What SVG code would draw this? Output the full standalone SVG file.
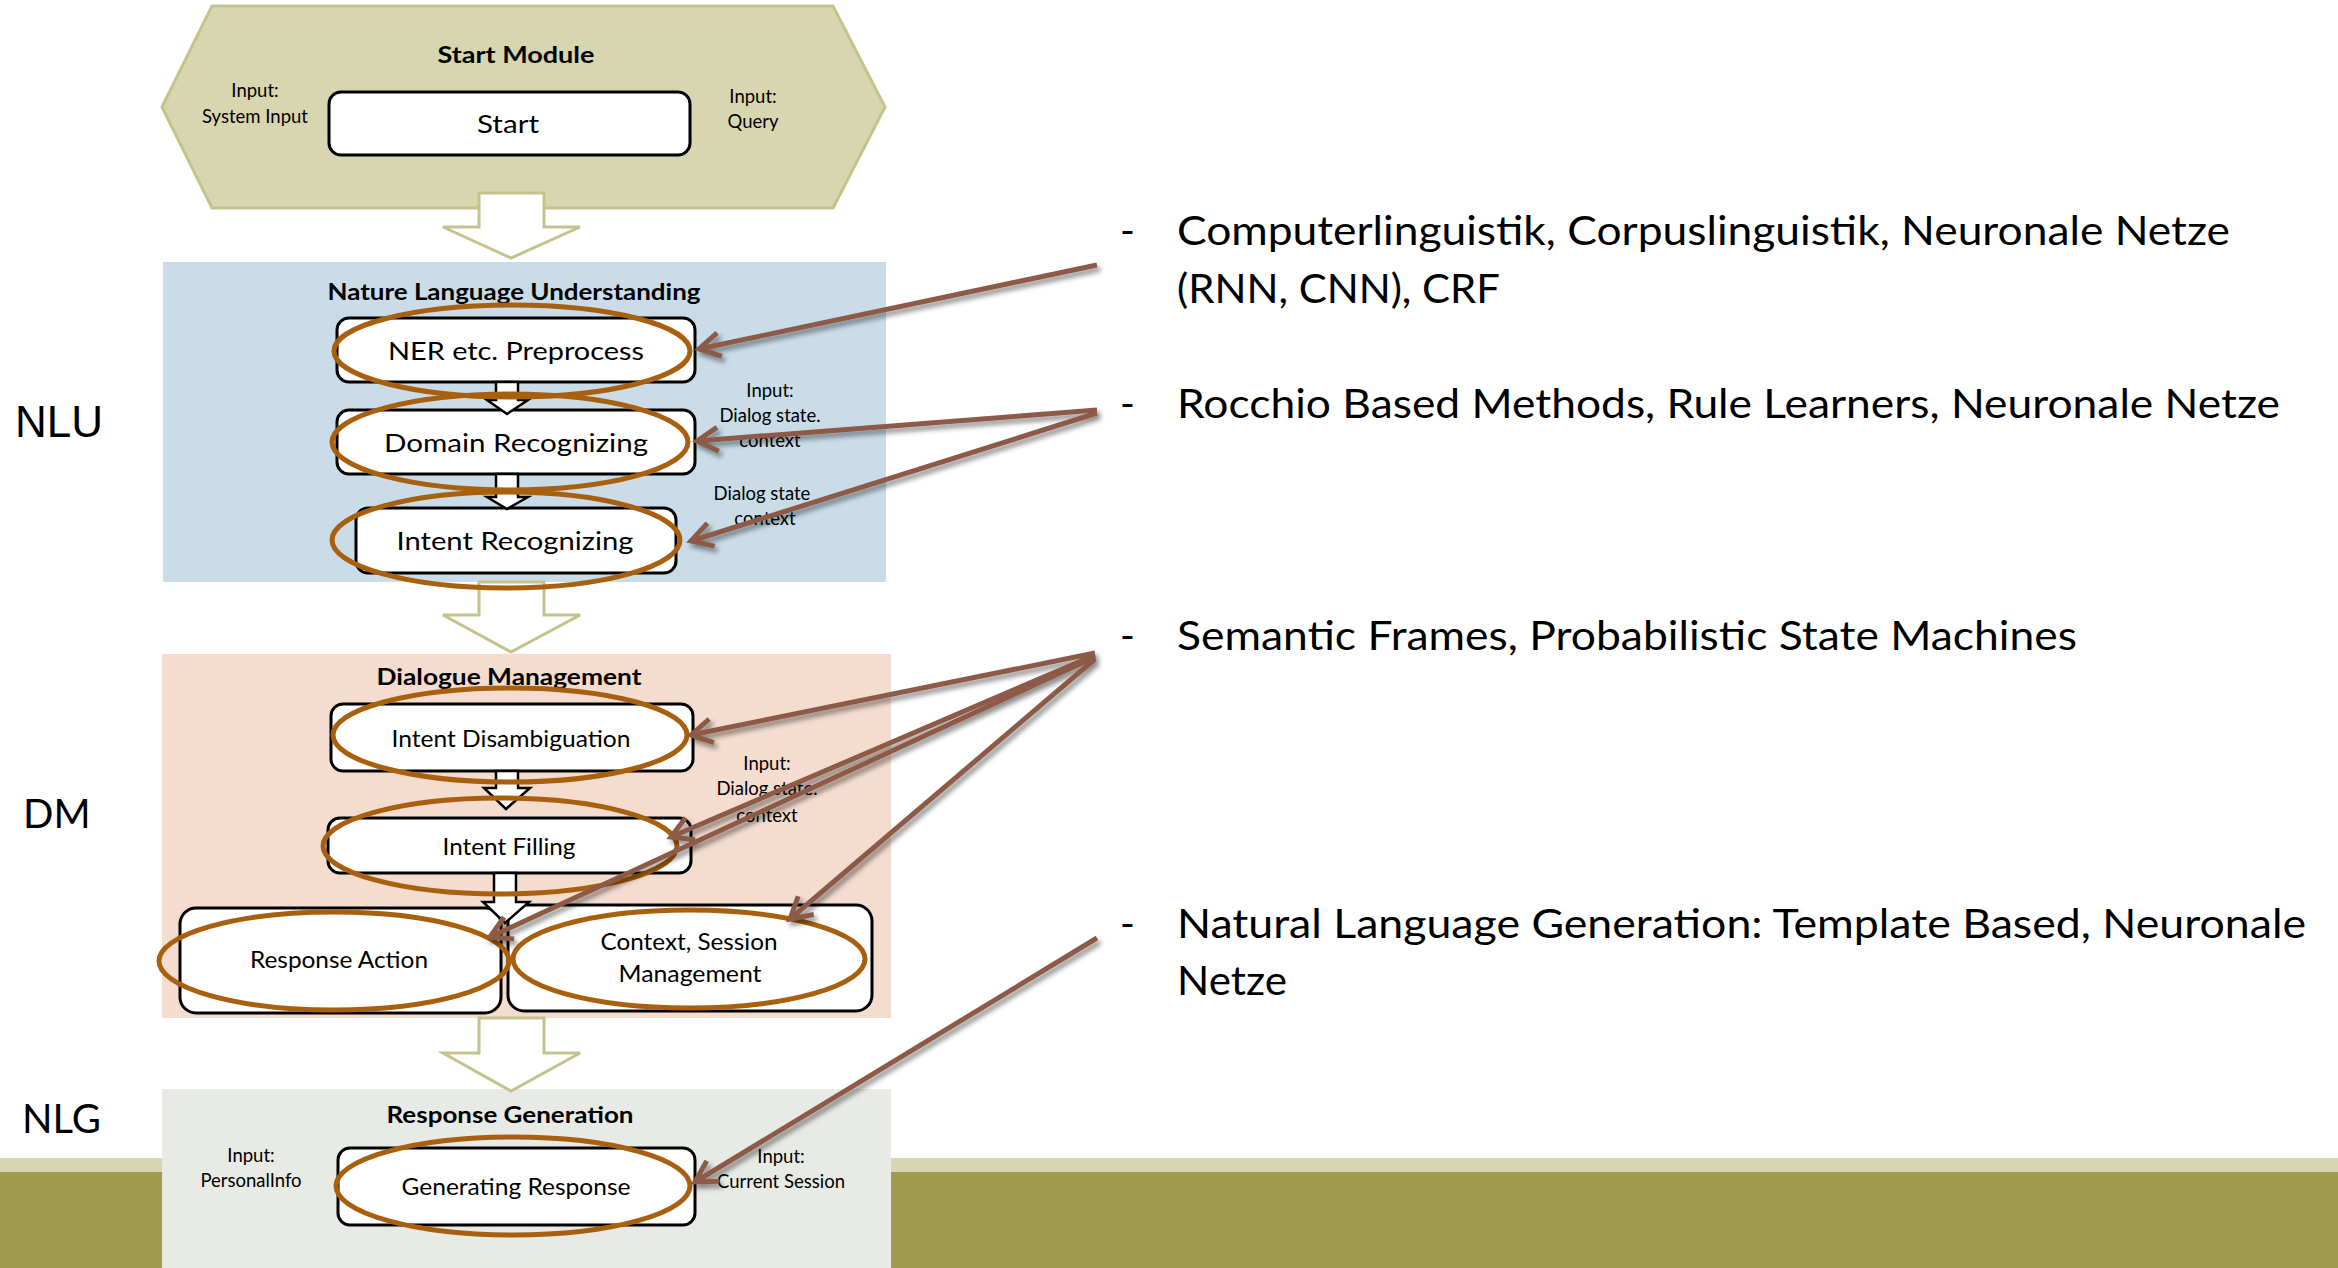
<svg xmlns="http://www.w3.org/2000/svg" width="2338" height="1268" viewBox="0 0 2338 1268">
  <defs>
    <style>
      text { font-family: Lato, "Open Sans", "Liberation Sans", sans-serif; fill: #000; }
      .title { font-weight: bold; font-size: 23.5px; text-anchor: middle; }
      .lbl { font-size: 25px; text-anchor: middle; }
      .lbl2 { font-size: 22.5px; text-anchor: middle; }
      .small { font-size: 18.5px; text-anchor: middle; }
      .side { font-size: 40px; }
      .note { font-size: 40px; }
      .box { fill: #fff; stroke: #000; stroke-width: 3; }
      .oval { fill: none; stroke: #a8600e; stroke-width: 5; }
      .flow { fill: #fff; stroke: #c6c28b; stroke-width: 3; stroke-linejoin: miter; }
      .step { fill: #fff; stroke: #000; stroke-width: 2.5; stroke-linejoin: miter; }
      .link { fill: none; stroke: #8c5a46; stroke-width: 5; marker-end: url(#open); }
    </style>
    <marker id="open" markerUnits="userSpaceOnUse" viewBox="-26 -16 32 32" refX="0" refY="0" markerWidth="32" markerHeight="32" orient="auto">
      <path d="M-21,-12 L0,0 L-21,12" fill="none" stroke="#8c5a46" stroke-width="5" stroke-linejoin="miter"/>
    </marker>
    <filter id="shadow" x="-10%" y="-10%" width="120%" height="120%">
      <feDropShadow dx="3" dy="4" stdDeviation="2.5" flood-color="#000" flood-opacity="0.45"/>
    </filter>
  </defs>

  <rect x="0" y="0" width="2338" height="1268" fill="#fff"/>

  <!-- footer band -->
  <rect x="0" y="1158" width="2338" height="14" fill="#d8d6b1"/>
  <rect x="0" y="1172" width="2338" height="96" fill="#a29b4f"/>

  <!-- layer labels -->
  <text x="15" y="437" style="font-family: 'Liberation Sans', Arial, sans-serif; font-size: 44px;">NLU</text>
  <text x="23" y="828" class="side">DM</text>
  <text x="22" y="1133" class="side">NLG</text>

  <!-- stage containers -->
  <g id="start-module">
    <polygon points="162,107 212,6 833,6 885,107 833,208 212,208" fill="#d8d6b1" stroke="#c6c28b" stroke-width="3"/>
    <text x="516" y="63" class="title" textLength="157" lengthAdjust="spacingAndGlyphs">Start Module</text>
    <text x="255" y="97" class="small">Input:</text>
    <text x="255" y="123" class="small">System Input</text>
    <text x="753" y="103" class="small">Input:</text>
    <text x="753" y="128" class="small">Query</text>
  </g>
  <g id="nlu">
    <rect x="163" y="262" width="723" height="320" fill="#c9dce8"/>
    <text x="514" y="300" class="title" textLength="373" lengthAdjust="spacingAndGlyphs">Nature Language Understanding</text>
    <text x="770" y="397" class="small">Input:</text>
    <text x="770" y="422" class="small">Dialog state.</text>
    <text x="770" y="447" class="small">context</text>
    <text x="762" y="500" class="small">Dialog state</text>
    <text x="765" y="525" class="small">context</text>
  </g>
  <g id="dm">
    <rect x="162" y="654" width="729" height="364" fill="#f4dccf"/>
    <text x="509" y="685" class="title" textLength="265" lengthAdjust="spacingAndGlyphs">Dialogue Management</text>
    <text x="767" y="770" class="small">Input:</text>
    <text x="767" y="795" class="small">Dialog state.</text>
    <text x="767" y="822" class="small">context</text>
  </g>
  <g id="rg">
    <rect x="162" y="1089" width="729" height="179" fill="#e8eae5"/>
    <text x="510" y="1123" class="title" textLength="247" lengthAdjust="spacingAndGlyphs">Response Generation</text>
    <text x="251" y="1162" class="small">Input:</text>
    <text x="251" y="1187" class="small">PersonalInfo</text>
    <text x="781" y="1163" class="small">Input:</text>
    <text x="781" y="1188" class="small">Current Session</text>
  </g>

  <!-- stage flow arrows -->
  <g id="stage-flow">
    <path class="flow" d="M479,193 L479,227 L443,227 L511,258 L580,227 L544,227 L544,193 Z"/>
    <path class="flow" d="M479,582 L479,615 L443,615 L511,652 L580,615 L544,615 L544,582 Z"/>
    <path class="flow" d="M479,1018 L479,1053 L443,1053 L511,1091 L580,1053 L544,1053 L544,1018 Z"/>
  </g>

  <!-- nodes -->
  <g id="node-start">
    <rect class="box" x="329" y="92" width="361" height="63" rx="12"/>
    <text x="508" y="133" class="lbl" font-size="26" textLength="62" lengthAdjust="spacingAndGlyphs">Start</text>
  </g>
  <g id="node-ner">
    <rect class="box" x="337" y="318" width="358" height="64" rx="12"/>
    <text x="516" y="360" class="lbl" textLength="256" lengthAdjust="spacingAndGlyphs">NER etc. Preprocess</text>
  </g>
  <g id="node-domain">
    <rect class="box" x="337" y="410" width="358" height="64" rx="12"/>
    <text x="516" y="452" class="lbl" textLength="264" lengthAdjust="spacingAndGlyphs">Domain Recognizing</text>
  </g>
  <g id="node-intent-rec">
    <rect class="box" x="356" y="508" width="320" height="65" rx="12"/>
    <text x="515" y="550" class="lbl" textLength="237" lengthAdjust="spacingAndGlyphs">Intent Recognizing</text>
  </g>
  <g id="node-disamb">
    <rect class="box" x="331" y="704" width="362" height="67" rx="12"/>
    <text x="511" y="747" class="lbl2" textLength="239" lengthAdjust="spacingAndGlyphs">Intent Disambiguation</text>
  </g>
  <g id="node-filling">
    <rect class="box" x="328" y="818" width="363" height="55" rx="12"/>
    <text x="509" y="855" class="lbl2" textLength="133" lengthAdjust="spacingAndGlyphs">Intent Filling</text>
  </g>
  <g id="node-response-action">
    <rect class="box" x="180" y="908" width="321" height="105" rx="16"/>
    <text x="339" y="968" class="lbl2" textLength="178" lengthAdjust="spacingAndGlyphs">Response Action</text>
  </g>
  <g id="node-context">
    <rect class="box" x="508" y="905" width="364" height="106" rx="16"/>
    <text x="689" y="950" class="lbl2" textLength="177" lengthAdjust="spacingAndGlyphs">Context, Session</text>
    <text x="690" y="982" class="lbl2" textLength="143" lengthAdjust="spacingAndGlyphs">Management</text>
  </g>
  <g id="node-generating">
    <rect class="box" x="338" y="1148" width="357" height="77" rx="12"/>
    <text x="516" y="1195" class="lbl2" textLength="229" lengthAdjust="spacingAndGlyphs">Generating Response</text>
  </g>

  <!-- step arrows between nodes -->
  <g id="step-flow">
    <path class="step" d="M496,382 L496,400 L487,400 L507,414 L528,400 L518,400 L518,382 Z"/>
    <path class="step" d="M496,474 L496,497 L487,497 L507,509 L528,497 L518,497 L518,474 Z"/>
    <path class="step" d="M496,771 L496,788 L484,788 L506,809 L530,788 L518,788 L518,771 Z"/>
    <path class="step" d="M494,873 L494,902 L483,902 L505,923 L529,902 L516,902 L516,873 Z"/>
  </g>

  <!-- highlight ovals -->
  <g id="highlights">
    <ellipse class="oval" cx="512" cy="351" rx="178" ry="46"/>
    <ellipse class="oval" cx="510" cy="442" rx="178" ry="48"/>
    <ellipse class="oval" cx="506" cy="540" rx="174" ry="48"/>
    <ellipse class="oval" cx="510" cy="735" rx="177" ry="47"/>
    <ellipse class="oval" cx="500" cy="846" rx="177" ry="48"/>
    <ellipse class="oval" cx="334" cy="961" rx="175" ry="49"/>
    <ellipse class="oval" cx="689" cy="959" rx="176" ry="49"/>
    <ellipse class="oval" cx="513" cy="1186" rx="177" ry="49"/>
  </g>

  <!-- method notes -->
  <g id="notes">
    <text x="1120" y="245" class="note">-</text>
    <text x="1177" y="245" class="note" textLength="1053" lengthAdjust="spacingAndGlyphs">Computerlinguistik, Corpuslinguistik, Neuronale Netze</text>
    <text x="1177" y="303" class="note" textLength="323" lengthAdjust="spacingAndGlyphs">(RNN, CNN), CRF</text>
    <text x="1120" y="418" class="note">-</text>
    <text x="1177" y="418" class="note" textLength="1103" lengthAdjust="spacingAndGlyphs">Rocchio Based Methods, Rule Learners, Neuronale Netze</text>
    <text x="1120" y="650" class="note">-</text>
    <text x="1177" y="650" class="note" textLength="900" lengthAdjust="spacingAndGlyphs">Semantic Frames, Probabilistic State Machines</text>
    <text x="1120" y="938" class="note">-</text>
    <text x="1177" y="938" class="note" textLength="1129" lengthAdjust="spacingAndGlyphs">Natural Language Generation: Template Based, Neuronale</text>
    <text x="1177" y="995" class="note" textLength="110" lengthAdjust="spacingAndGlyphs">Netze</text>
  </g>

  <!-- connectors from notes to nodes -->
  <g id="connectors" filter="url(#shadow)">
    <line class="link" x1="1097" y1="265" x2="699" y2="349"/>
    <line class="link" x1="1097" y1="410" x2="697" y2="441"/>
    <line class="link" x1="1097" y1="413" x2="691" y2="541"/>
    <line class="link" x1="1095" y1="653" x2="691" y2="735"/>
    <line class="link" x1="1095" y1="655" x2="671" y2="837"/>
    <line class="link" x1="1095" y1="657" x2="490" y2="937"/>
    <line class="link" x1="1095" y1="659" x2="790" y2="919"/>
    <line class="link" x1="1097" y1="938" x2="695" y2="1182"/>
  </g>
</svg>
